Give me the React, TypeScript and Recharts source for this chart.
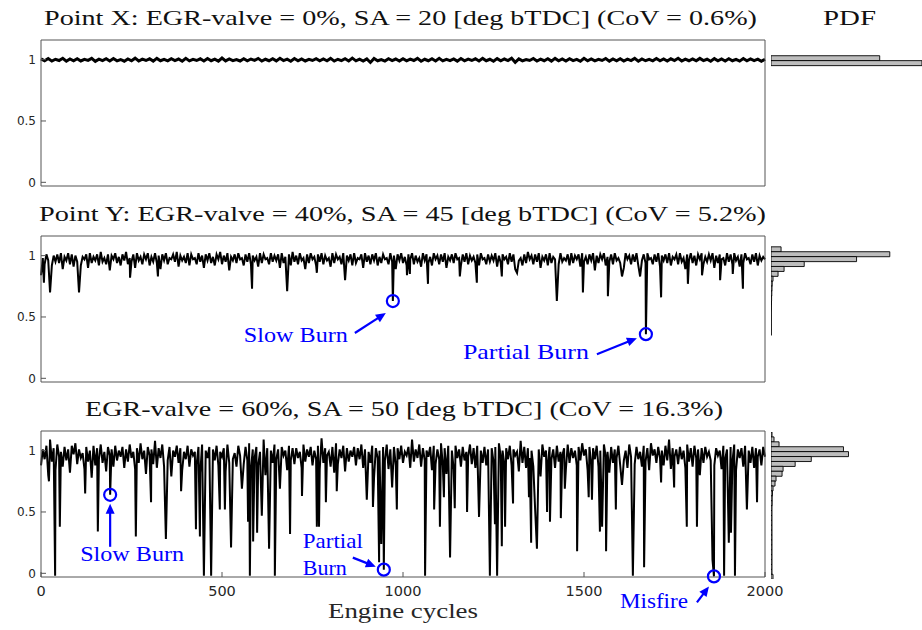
import React from 'react';
import { LineChart, Line, XAxis, YAxis, ReferenceDot, BarChart, Bar } from 'recharts';

// ---- data -------------------------------------------------------------
const MAX_CYCLE = 2000;
const xTicks = [0, 500, 1000, 1500, 2000];
const yTicks = [0, 0.5, 1];
const Y_MIN = -0.03;
const Y_MAX = 1.16;

const titles = [
  'Point X: EGR-valve = 0%, SA = 20 [deg bTDC] (CoV = 0.6%)',
  'Point Y: EGR-valve = 40%, SA = 45 [deg bTDC] (CoV = 5.2%)',
  'EGR-valve = 60%, SA = 50 [deg bTDC] (CoV = 16.3%)',
];

// normalised IMEP, evenly spaced over the 2000 cycles
const p1Base = [
  1.006, 0.99, 1.009, 0.988, 1.003, 0.993, 1.011, 0.987, 1.006, 0.991,
  1.008, 0.989, 1.002, 0.994, 1.01, 0.986, 1.004, 0.992, 1.007, 0.989,
  1.009, 0.99, 1.001, 0.987, 1.006, 0.991, 1.012, 0.989, 1.004, 0.993,
  1.007, 0.988, 1.01, 0.991, 1.003, 0.99, 1.008, 0.992, 1.005, 0.987,
  1.011, 0.99, 1.002, 0.993, 1.007, 0.989, 1.009, 0.991, 1.004, 0.988,
  1.013, 0.99, 1.006, 0.992, 1.001, 0.989, 1.008, 0.99, 1.005, 0.994,
  1.01, 0.988, 1.003, 0.991, 1.007, 0.99, 1.011, 0.992, 1.004, 0.987,
  1.009, 0.99, 1.006, 0.989, 1.002, 0.993, 1.008, 0.99, 1.005, 0.991,
  1.01, 0.988, 1.003, 0.992, 1.007, 0.989, 1.012, 0.99, 1.004, 0.989,
  1.006, 0.977, 1.009, 0.991, 1.001, 0.988, 1.007, 0.992, 1.005, 0.989,
  1.008, 0.99, 1.004, 0.993, 1.01, 0.987, 1.003, 0.991, 1.007, 0.989,
  1.011, 0.99, 1.002, 0.992, 1.006, 0.988, 1.009, 0.99, 1.004, 0.993,
  1.007, 0.989, 1.01, 0.991, 1.003, 0.987, 1.008, 0.99, 1.005, 0.992,
  1.012, 0.978, 1.006, 0.99, 1.001, 0.993, 1.009, 0.989, 1.004, 0.991,
  1.007, 0.988, 1.01, 0.99, 1.005, 0.989, 1.008, 0.992, 1.002, 0.987,
  1.011, 0.991, 1.006, 0.99, 1.003, 0.993, 1.009, 0.988, 1.005, 0.99,
  1.008, 0.989, 1.004, 0.992, 1.01, 0.987, 1.006, 0.991, 1.002, 0.99,
  1.009, 0.99, 1.005, 0.988, 1.007, 0.993, 1.011, 0.989, 1.004, 0.991,
  1.006, 0.99, 1.01, 0.992, 1.003, 0.987, 1.008, 0.99, 1.005, 0.989,
  1.007, 0.991, 1.002, 0.988, 1.009, 0.99, 1.006, 0.992, 1.004, 0.986,
  1.003,
];

const p2Base = [
  0.84, 0.98, 0.93, 1.01, 0.96, 1.02, 0.92, 1.0, 0.95, 1.01,
  0.94, 1.02, 0.89, 0.99, 0.96, 1.02, 0.93, 1.01, 0.91, 1.0,
  0.95, 1.02, 0.92, 0.99, 0.97, 1.01, 0.9, 1.02, 0.94, 0.99,
  0.96, 1.01, 0.92, 1.03, 0.95, 0.98, 0.93, 1.01, 0.88, 1.0,
  0.97, 1.02, 0.94, 0.99, 0.92, 1.01, 0.96, 1.03, 0.93, 0.98,
  0.95, 1.01, 0.9, 1.02, 0.96, 0.99, 0.93, 1.01, 0.97, 1.02,
  0.92, 0.99, 0.95, 1.02, 0.94, 1.0, 0.89, 1.01, 0.96, 1.02,
  0.93, 0.98, 0.97, 1.01, 0.95, 1.03, 0.91, 1.0, 0.96, 0.99,
  0.94, 1.02, 0.92, 1.01, 0.97, 0.98, 0.93, 1.02, 0.95, 1.0,
  0.9, 1.01, 0.96, 1.02, 0.94, 0.99, 0.92, 1.01, 0.97, 1.03,
  0.93, 1.0, 0.95, 1.02, 0.88, 0.99, 0.96, 1.01, 0.94, 1.02,
  0.97, 0.98, 0.92, 1.01, 0.95, 1.02, 0.93, 1.0, 0.96, 0.99,
  0.91, 1.02, 0.94, 1.01, 0.97, 0.98, 0.93, 1.02, 0.95, 1.0,
  0.96, 1.01, 0.9, 1.02, 0.94, 0.99, 0.97, 1.01, 0.92, 1.03,
  0.95, 1.0, 0.93, 1.02, 0.96, 0.98, 0.89, 1.01, 0.94, 1.02,
  0.97, 0.99, 0.92, 1.01, 0.95, 1.02, 0.93, 1.0, 0.96, 0.98,
  0.91, 1.02, 0.94, 1.01, 0.97, 0.99, 0.93, 1.02, 0.95, 1.0,
  0.96, 1.01, 0.92, 1.02, 0.94, 0.98, 0.97, 1.01, 0.9, 1.02,
  0.95, 1.0, 0.93, 1.01, 0.96, 1.02, 0.92, 0.99, 0.94, 1.01,
  0.97, 0.98, 0.93, 1.02, 0.95, 1.0, 0.89, 1.01, 0.96, 1.02,
  0.94, 0.99, 0.92, 1.01, 0.97, 1.02, 0.93, 1.0, 0.95, 0.98,
  0.91, 1.02, 0.96, 1.01, 0.94, 0.99, 0.92, 1.02, 0.97, 1.0,
  0.93, 1.01, 0.95, 1.02, 0.9, 0.99, 0.96, 1.01, 0.94, 1.02,
  0.97, 0.98, 0.92, 1.01, 0.95, 1.02, 0.93, 1.0, 0.96, 0.99,
  0.94, 1.01, 0.92, 1.02, 0.97, 0.98, 0.93, 1.01, 0.95, 1.0,
  0.96, 1.02, 0.91, 1.0, 0.94, 1.01, 0.97, 0.99, 0.93, 1.02,
  0.95, 1.01, 0.89, 1.02, 0.96, 0.98, 0.92, 1.01, 0.94, 1.03,
  0.97, 1.0, 0.93, 1.01, 0.95, 1.02, 0.9, 0.99, 0.96, 1.01,
  0.92, 1.02, 0.94, 0.99, 0.97, 1.01, 0.93, 1.02, 0.95, 0.98,
  0.96, 1.01, 0.92, 1.02, 0.94, 1.0, 0.97, 1.01, 0.91, 1.02,
  0.95, 0.99, 0.93, 1.01, 0.96, 1.02, 0.88, 1.0, 0.94, 1.01,
  0.97, 1.02, 0.92, 0.99, 0.95, 1.01, 0.93, 1.02, 0.96, 0.98,
  0.94, 1.01, 0.9, 1.02, 0.97, 1.0, 0.93, 1.01, 0.95, 1.02,
  0.92, 0.99, 0.96, 1.01, 0.94, 1.02, 0.97, 0.98, 0.93, 1.01,
  0.95, 1.02, 0.91, 1.0, 0.96, 1.01, 0.94, 1.02, 0.92, 0.99,
  0.97, 1.01, 0.93, 1.02, 0.95, 0.98, 0.89, 1.01, 0.96, 1.02,
  0.94, 1.0, 0.92, 1.01, 0.97, 1.02, 0.93, 0.99, 0.95, 1.01,
  0.96, 1.02, 0.9, 1.0, 0.94, 1.01, 0.97, 0.98, 0.92, 1.02,
  0.95, 1.01, 0.93, 1.02, 0.96, 0.99, 0.91, 1.01, 0.94, 1.02,
  0.97, 0.98, 0.93, 1.01, 0.95, 1.02, 0.92, 1.0, 0.96, 0.99,
  0.97,
];

const p3Base = [
  0.88, 1.01, 0.93, 1.04, 0.8, 1.09, 0.91, 1.02, 0.84, 1.05,
  0.95, 0.99, 0.87, 1.03, 0.92, 1.01, 0.82, 1.04, 0.97, 1.06,
  0.89, 1.01, 0.94, 0.98, 0.85, 1.03, 0.91, 1.0, 0.78, 1.04,
  0.88, 1.02, 0.93, 1.05, 0.9, 0.99, 0.83, 1.03, 0.96, 1.01,
  0.87, 1.04, 0.92, 1.0, 0.95, 1.03, 0.86, 1.01, 0.91, 1.05,
  0.94, 0.99, 0.85, 1.02, 0.9, 1.06, 0.93, 1.0, 0.81, 1.03,
  0.96, 1.01, 0.89, 1.08, 0.86, 1.02, 0.94, 1.05, 0.87, 1.01,
  0.92, 1.03, 0.79, 1.0, 0.95, 1.04, 0.9, 1.02, 0.84, 0.99,
  0.93, 1.04, 0.87, 1.01, 0.96, 0.99, 0.89, 1.03, 0.82, 1.05,
  0.91, 1.0, 0.94, 1.03, 0.86, 1.01, 0.92, 1.04, 0.88, 0.99,
  0.95, 1.02, 0.83, 1.05, 0.9, 1.01, 0.93, 0.98, 0.87, 1.04,
  0.96, 1.0, 0.89, 1.03, 0.92, 1.06, 0.85, 1.01, 0.94, 1.03,
  0.88, 0.99, 0.91, 1.09, 0.8, 1.02, 0.95, 1.0, 0.9, 1.05,
  0.93, 1.01, 0.87, 1.03, 0.96, 1.0, 0.84, 1.04, 0.92, 1.02,
  0.89, 1.02, 0.94, 0.99, 0.86, 1.05, 0.91, 1.01, 0.95, 1.03,
  0.88, 1.0, 0.93, 1.04, 0.85, 1.1, 0.9, 1.02, 0.96, 0.99,
  0.87, 1.03, 0.82, 1.06, 0.89, 1.01, 0.94, 1.04, 0.83, 1.02,
  0.91, 1.0, 0.95, 1.03, 0.88, 1.02, 0.93, 1.05, 0.86, 1.01,
  0.96, 0.99, 0.9, 1.04, 0.78, 1.02, 0.94, 1.0, 0.89, 1.03,
  0.92, 1.05, 0.85, 1.01, 0.95, 1.03, 0.88, 1.02, 0.93, 1.04,
  0.9, 0.99, 0.96, 1.03, 0.86, 1.09, 0.91, 1.01, 0.94, 1.05,
  0.87, 1.02, 0.92, 1.0, 0.95, 1.03, 0.84, 1.04, 0.89, 1.01,
  0.93, 1.06, 0.88, 1.02, 0.81, 1.04, 0.91, 1.0, 0.85, 1.04,
  0.94, 1.01, 0.87, 1.03, 0.92, 0.99, 0.95, 1.05, 0.89, 1.02,
  0.86, 1.04, 0.93, 1.0, 0.9, 1.03, 0.88, 1.01, 0.94, 1.02,
  0.91, 1.03, 0.84, 1.06, 0.95, 1.0, 0.89, 1.02, 0.93, 1.04,
  0.88, 1.01, 0.96, 0.99, 0.83, 1.08, 0.9, 1.03, 0.86, 1.02,
  0.94, 1.0, 0.87, 1.04, 0.92, 1.01, 0.79, 1.05, 0.95, 1.0,
  0.89, 1.03, 0.93, 1.01, 0.86, 1.04, 0.91, 0.99, 0.96, 1.02,
  0.85, 1.05, 0.9, 1.02, 0.94, 1.0, 0.88, 1.03, 0.92, 1.06,
  0.96, 1.01, 0.84, 1.03, 0.89, 1.02, 0.93, 1.04, 0.87, 1.0,
  0.91, 1.05, 0.95, 0.99, 0.82, 1.03, 0.9, 1.01, 0.94, 1.04,
  0.88, 1.02, 0.92, 1.0, 0.86, 1.05, 0.95, 1.01, 0.89, 1.03,
  0.93, 0.99, 0.87, 1.04, 0.91, 1.02, 0.84, 1.06, 0.96, 1.01,
  0.9, 1.03, 0.94, 1.0, 0.88, 1.04, 0.92, 1.09, 0.85, 1.02,
  0.95, 1.01, 0.89, 1.03, 0.93, 1.0, 0.86, 1.05, 0.91, 1.02,
  0.87, 1.04, 0.94, 1.01, 0.8, 1.02, 0.9, 1.03, 0.95, 0.99,
  0.92, 1.05, 0.88, 1.02, 0.96, 1.0, 0.85, 1.04, 0.93, 1.01,
  0.89, 1.03, 0.91, 1.05, 0.84, 1.01, 0.94, 1.02, 0.87, 1.04,
  0.93, 1.0, 0.9, 1.03, 0.86, 1.02, 0.95, 1.01, 0.88, 1.03,
  0.95,
];

// single cycles that dropped well below the band
const p2SpikeCycles = [8, 25, 105, 246, 323, 583, 680, 762, 840, 972, 1011, 1019, 1069, 1157, 1204, 1273, 1315, 1425, 1497, 1566, 1605, 1655, 1671, 1713, 1787, 1826, 1876, 1911, 1939];
const p2SpikeValues = [0.78, 0.7, 0.7, 0.82, 0.83, 0.73, 0.71, 0.86, 0.8, 0.63, 0.84, 0.85, 0.77, 0.83, 0.78, 0.83, 0.86, 0.63, 0.7, 0.67, 0.83, 0.83, 0.36, 0.66, 0.77, 0.84, 0.8, 0.85, 0.73];

const p3SpikeCycles = [22, 39, 52, 122, 157, 191, 262, 304, 345, 387, 428, 439, 450, 470, 494, 508, 525, 555, 572, 577, 586, 597, 610, 630, 646, 660, 688, 721, 762, 768, 787, 817, 900, 917, 934, 940, 947, 970, 983, 1061, 1086, 1102, 1113, 1130, 1143, 1177, 1210, 1240, 1254, 1260, 1273, 1282, 1304, 1348, 1354, 1365, 1370, 1398, 1406, 1436, 1447, 1481, 1513, 1522, 1544, 1550, 1561, 1588, 1605, 1635, 1666, 1713, 1749, 1784, 1812, 1855, 1859, 1887, 1900, 1906, 1917, 1950, 1978];
const p3SpikeValues = [0.75, -0.02, 0.38, 0.65, 0.34, 0.64, 0.3, 0.58, 0.28, 0.67, 0.36, 0.3, -0.02, -0.02, 0.52, 0.52, 0.21, 0.69, 0.42, -0.02, 0.26, 0.33, 0.47, 0.2, -0.02, 0.69, 0.32, 0.63, 0.38, 0.38, 0.58, 0.67, 0.6, 0.54, 0.09, 0.24, 0.03, 0.7, 0.52, -0.02, 0.52, 0.38, 0.62, 0.13, 0.53, 0.5, 0.46, -0.02, 0.4, -0.02, 0.22, 0.38, 0.57, 0.62, 0.25, 0.52, 0.2, 0.5, 0.42, 0.45, 0.69, 0.18, 0.62, 0.6, 0.34, 0.38, 0.18, 0.52, 0.72, -0.02, 0.05, 0.74, 0.7, 0.38, 0.38, 0.11, -0.025, -0.02, 0.25, 0.33, -0.02, 0.52, 0.58];

// histogram bins (centres, top to bottom) and densities
const pdfBins = [1.13, 1.09, 1.05, 1.01, 0.97, 0.93, 0.89, 0.85, 0.81, 0.77, 0.73, 0.69, 0.65, 0.61, 0.57, 0.53, 0.49, 0.45, 0.41, 0.37, 0.33, 0.29, 0.25, 0.21, 0.17, 0.13, 0.09, 0.05, 0.01, -0.03];
const p1Pdf = [0, 0, 0, 1.08, 1.5, 0, 0, 0, 0, 0, 0, 0, 0, 0, 0, 0, 0, 0, 0, 0, 0, 0, 0, 0, 0, 0, 0, 0, 0, 0];
const p2Pdf = [0, 0, 0.1, 1.18, 0.85, 0.33, 0.13, 0.07, 0.02, 0.012, 0.01, 0.008, 0.006, 0.005, 0.004, 0.003, 0.003, 0.003, 0.003, 0.003, 0, 0, 0, 0, 0, 0, 0, 0, 0, 0];
const p3Pdf = [0.01, 0.03, 0.08, 0.72, 0.77, 0.4, 0.24, 0.12, 0.11, 0.05, 0.04, 0.02, 0.015, 0.012, 0.012, 0.01, 0.01, 0.01, 0.01, 0.01, 0.01, 0.01, 0.01, 0.01, 0.01, 0.01, 0.01, 0.01, 0.01, 0.02];

// annotated cycles
const p2NoteCycles = [972, 1671];
const p2NoteValues = [0.63, 0.36];
const p3NoteCycles = [191, 947, 1859];
const p3NoteValues = [0.64, 0.03, -0.025];

// ---- layout -----------------------------------------------------------
const PLOT_LEFT = 41;
const PLOT_RIGHT = 765;
const PLOT_H = 146;
const PANEL_TOPS = [40, 236, 431];
const PPU = PLOT_H / (Y_MAX - Y_MIN);
const BIN_W = 0.04;
const AXIS = '#555';
const BLUE = '#0000ff';
const SERIF = 'Liberation Serif, DejaVu Serif, serif';
const SANS = 'DejaVu Sans, sans-serif';

type Note = {
  lines: string[];
  widths: number[];
  tx: number;
  ty: number;
  anchor: 'start' | 'middle' | 'end';
  from: [number, number];
  to: [number, number];
};

const p2Notes: Note[] = [
  { lines: ['Slow Burn'], widths: [104], tx: -45, ty: 41, anchor: 'end', from: [-38, 32], to: [-7, 12] },
  { lines: ['Partial Burn'], widths: [126], tx: -57, ty: 25, anchor: 'end', from: [-49, 20], to: [-9, 4] },
];
const p3Notes: Note[] = [
  { lines: ['Slow Burn'], widths: [104], tx: 22, ty: 66, anchor: 'middle', from: [0, 52], to: [0, 9] },
  { lines: ['Partial', 'Burn'], widths: [60, 44], tx: -81, ty: -22, anchor: 'start', from: [-31, -12], to: [-8, -3] },
  { lines: ['Misfire'], widths: [68], tx: -26, ty: 32, anchor: 'end', from: [-17, 26], to: [-5, 10] },
];

function buildSeries(base: number[], spikeCycles: number[], spikeValues: number[]) {
  const step = MAX_CYCLE / (base.length - 1);
  const m = new Map<number, number>();
  base.forEach((v, i) => m.set(Math.round(i * step), v));
  spikeCycles.forEach((c, i) => m.set(c, spikeValues[i]));
  return [...m.entries()].sort((a, b) => a[0] - b[0]).map(([cycle, v]) => ({ cycle, v }));
}

function NoteShape(props: any) {
  const { cx, cy, note } = props as { cx: number; cy: number; note: Note };
  const [fx, fy] = note.from;
  const [hx, hy] = note.to;
  const x1 = cx + fx, y1 = cy + fy, x2 = cx + hx, y2 = cy + hy;
  const len = Math.hypot(x2 - x1, y2 - y1);
  const ux = (x2 - x1) / len, uy = (y2 - y1) / len;
  const hl = 10, hw = 4.5;
  const bx = x2 - ux * hl, by = y2 - uy * hl;
  return (
    <g>
      <circle cx={cx} cy={cy} r={6} fill="none" stroke={BLUE} strokeWidth={2.2} />
      <line x1={x1} y1={y1} x2={bx + ux} y2={by + uy} stroke={BLUE} strokeWidth={2.2} />
      <polygon
        points={`${x2},${y2} ${bx - uy * hw},${by + ux * hw} ${bx + uy * hw},${by - ux * hw}`}
        fill={BLUE}
      />
      {note.lines.map((t, i) => (
        <text
          key={t}
          x={cx + note.tx}
          y={cy + note.ty + i * 27}
          textAnchor={note.anchor}
          style={{ fontFamily: SERIF }}
          fontSize={22}
          fill={BLUE}
          textLength={note.widths[i]}
          lengthAdjust="spacingAndGlyphs"
        >
          {t}
        </text>
      ))}
    </g>
  );
}

function Panel({ top, data, noteCycles = [], noteValues = [], notes = [], showX = false, lineW = 2 }: any) {
  const topH = 6;
  const bottomH = showX ? 46 : 6;
  const width = 800;
  const rightW = 6;
  return (
    <div style={{ position: 'absolute', left: 0, top: top - topH }}>
      <LineChart
        width={width}
        height={topH + PLOT_H + bottomH}
        data={data}
        margin={{ top: 0, right: width - PLOT_RIGHT - rightW, bottom: 0, left: 0 }}
      >
        <XAxis
          xAxisId="top"
          orientation="top"
          type="number"
          dataKey="cycle"
          domain={[0, MAX_CYCLE]}
          ticks={xTicks}
          tick={false}
          tickSize={-5}
          height={topH}
          stroke={AXIS}
        />
        <XAxis
          type="number"
          dataKey="cycle"
          domain={[0, MAX_CYCLE]}
          ticks={xTicks}
          tickSize={-5}
          tickMargin={14}
          height={bottomH}
          stroke={AXIS}
          tick={showX ? { fill: '#262626', fontSize: 14.5, fontFamily: SANS } : false}
        />
        <YAxis
          type="number"
          domain={[Y_MIN, Y_MAX]}
          ticks={yTicks}
          tickSize={-5}
          tickMargin={10}
          width={PLOT_LEFT}
          stroke={AXIS}
          tick={{ fill: '#262626', fontSize: 12, fontFamily: SANS }}
        />
        <YAxis
          yAxisId="right"
          orientation="right"
          type="number"
          domain={[Y_MIN, Y_MAX]}
          ticks={yTicks}
          tick={false}
          tickSize={-5}
          width={rightW}
          stroke={AXIS}
        />
        <Line
          type="linear"
          dataKey="v"
          stroke="#000"
          strokeWidth={lineW}
          strokeLinejoin="miter"
          dot={false}
          isAnimationActive={false}
        />
        {notes.map((n: Note, i: number) => (
          <ReferenceDot
            key={i}
            x={noteCycles[i]}
            y={noteValues[i]}
            r={6}
            ifOverflow="visible"
            shape={(p: any) => <NoteShape {...p} note={n} />}
          />
        ))}
      </LineChart>
    </div>
  );
}

function Pdf({ top, values }: { top: number; values: number[] }) {
  const data = pdfBins.map((b, i) => ({ bin: String(b), d: values[i] }));
  const binTop = pdfBins[0] + BIN_W / 2;
  const h = pdfBins.length * BIN_W * PPU;
  return (
    <div style={{ position: 'absolute', left: 771, top: top + (Y_MAX - binTop) * PPU }}>
      <BarChart
        layout="vertical"
        width={151}
        height={h}
        data={data}
        margin={{ top: 0, right: 0, bottom: 0, left: 0 }}
        barCategoryGap={0}
      >
        <XAxis type="number" domain={[0, 1.5]} hide />
        <YAxis type="category" dataKey="bin" hide />
        <Bar dataKey="d" fill="#bdbdbd" stroke="#000" strokeWidth={0.9} isAnimationActive={false} />
      </BarChart>
    </div>
  );
}

const titleBoxes = [
  { x: 44, w: 713 },
  { x: 39, w: 727 },
  { x: 85, w: 638 },
];

export default function App() {
  const d1 = buildSeries(p1Base, [], []);
  const d2 = buildSeries(p2Base, p2SpikeCycles, p2SpikeValues);
  const d3 = buildSeries(p3Base, p3SpikeCycles, p3SpikeValues);
  return (
    <div
      style={{
        position: 'absolute',
        left: 0,
        top: 0,
        width: 922,
        height: 630,
        overflow: 'hidden',
        background: '#fff',
      }}
    >
      <Panel top={PANEL_TOPS[0]} data={d1} lineW={3} />
      <Panel top={PANEL_TOPS[1]} data={d2} notes={p2Notes} noteCycles={p2NoteCycles} noteValues={p2NoteValues} />
      <Panel top={PANEL_TOPS[2]} data={d3} notes={p3Notes} noteCycles={p3NoteCycles} noteValues={p3NoteValues} showX />
      <Pdf top={PANEL_TOPS[0]} values={p1Pdf} />
      <Pdf top={PANEL_TOPS[1]} values={p2Pdf} />
      <Pdf top={PANEL_TOPS[2]} values={p3Pdf} />
      <svg
        width={922}
        height={630}
        style={{ position: 'absolute', left: 0, top: 0, pointerEvents: 'none' }}
      >
        {titles.map((t, i) => (
          <text
            key={t}
            x={titleBoxes[i].x}
            y={PANEL_TOPS[i] - 15}
            style={{ fontFamily: SERIF }}
            fontSize={22}
            fill="#111"
            textLength={titleBoxes[i].w}
            lengthAdjust="spacingAndGlyphs"
          >
            {t}
          </text>
        ))}
        <text x={823} y={25} style={{ fontFamily: SERIF }} fontSize={22} fill="#111" textLength={53} lengthAdjust="spacingAndGlyphs">
          PDF
        </text>
        <text x={328} y={618} style={{ fontFamily: SERIF }} fontSize={22} fill="#262626" textLength={150} lengthAdjust="spacingAndGlyphs">
          Engine cycles
        </text>
      </svg>
    </div>
  );
}
